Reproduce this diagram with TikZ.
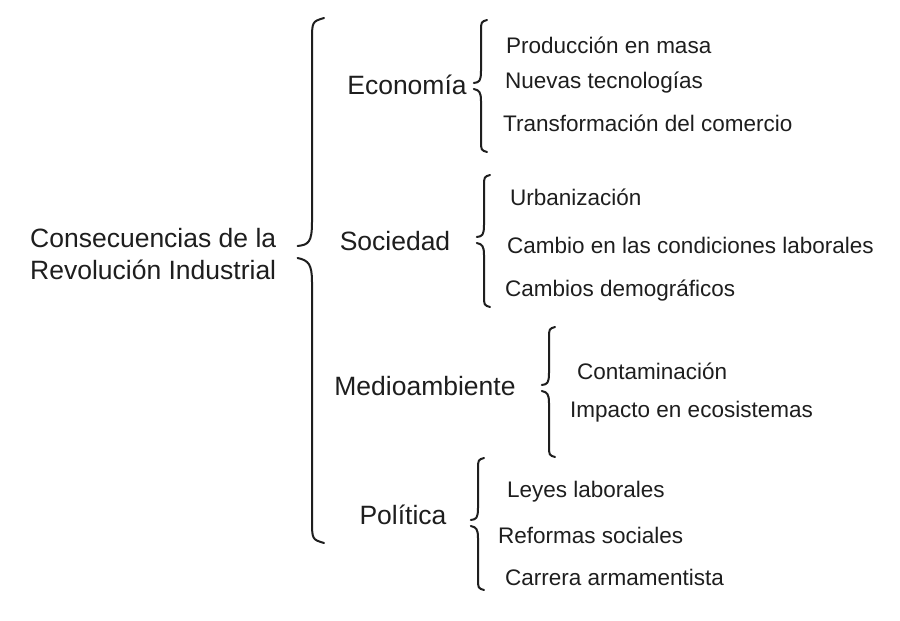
\documentclass[tikz,border=0pt]{standalone}
\usepackage{fontspec}
\setmainfont{Liberation Sans}
\usepackage{tikz}
\usetikzlibrary{positioning,calc}
\definecolor{ink}{HTML}{1E1E1E}

\begin{document}
\begin{tikzpicture}[x=1pt,y=-1pt,
	brace/.style={draw=ink, line width=2pt, line cap=round, line join=round},
	topic/.style={text=ink, inner sep=0pt, font=\fontsize{26.5}{32}\selectfont},
	leaf/.style={text=ink, inner sep=0pt, anchor=west, font=\fontsize{22.5}{26}\selectfont}]
			\fill[white] (0,0) rectangle (900,621);
			\useasboundingbox (0,0) rectangle (900,621);
			% root
			\node[topic, anchor=west, align=left] (root) at (30,254) {Consecuencias de la\\Revolución Industrial};
			% topics
			\node[topic] (econ) at (407,85) {Economía};
			\node[topic] (soc) at (395,241) {Sociedad};
			\node[topic] (med) at (425,386) {Medioambiente};
			\node[topic] (pol) at (403,515) {Política};
			% leaves
			\node[leaf] (prod) at (506,45) {Producción en masa};
			\node[leaf] (nuev) at (505,83) {Nuevas tecnologías};
			\node[leaf] (trans) at (503,123) {Transformación del comercio};
			\node[leaf] (urb) at (510,197) {Urbanización};
			\node[leaf] (cond) at (507,245) {Cambio en las condiciones laborales};
			\node[leaf] (demo) at (505,291) {Cambios demográficos};
			\node[leaf] (cont) at (577,371) {Contaminación};
			\node[leaf] (imp) at (570,412) {Impacto en ecosistemas};
			\node[leaf] (leyes) at (507,492) {Leyes laborales};
			\node[leaf] (ref) at (498,535) {Reformas sociales};
			\node[leaf] (carr) at (505,577) {Carrera armamentista};
			% braces: x / top / middle / bottom / curl
			\foreach \bx/\bt/\bm/\bb/\bw in {312/18/252/543/12, 481/20/86/152/6, 484/175/240/307/6, 549/327/388/457/6, 478/458/523/590/6}{
				\draw[brace] (\bx+\bw,\bt) .. controls (\bx,\bt+0.3*\bw) .. (\bx,\bt+2*\bw) -- (\bx,\bm-2.5*\bw) .. controls (\bx,\bm-0.8*\bw) and (\bx-0.3*\bw,\bm-0.6*\bw) .. (\bx-1.2*\bw,\bm-0.5*\bw);
				\draw[brace] (\bx-1.2*\bw,\bm+0.5*\bw) .. controls (\bx-0.3*\bw,\bm+0.7*\bw) and (\bx,\bm+1*\bw) .. (\bx,\bm+2.5*\bw) -- (\bx,\bb-2*\bw) .. controls (\bx,\bb-0.3*\bw) .. (\bx+\bw,\bb);
			}
		\end{tikzpicture}
\end{document}
